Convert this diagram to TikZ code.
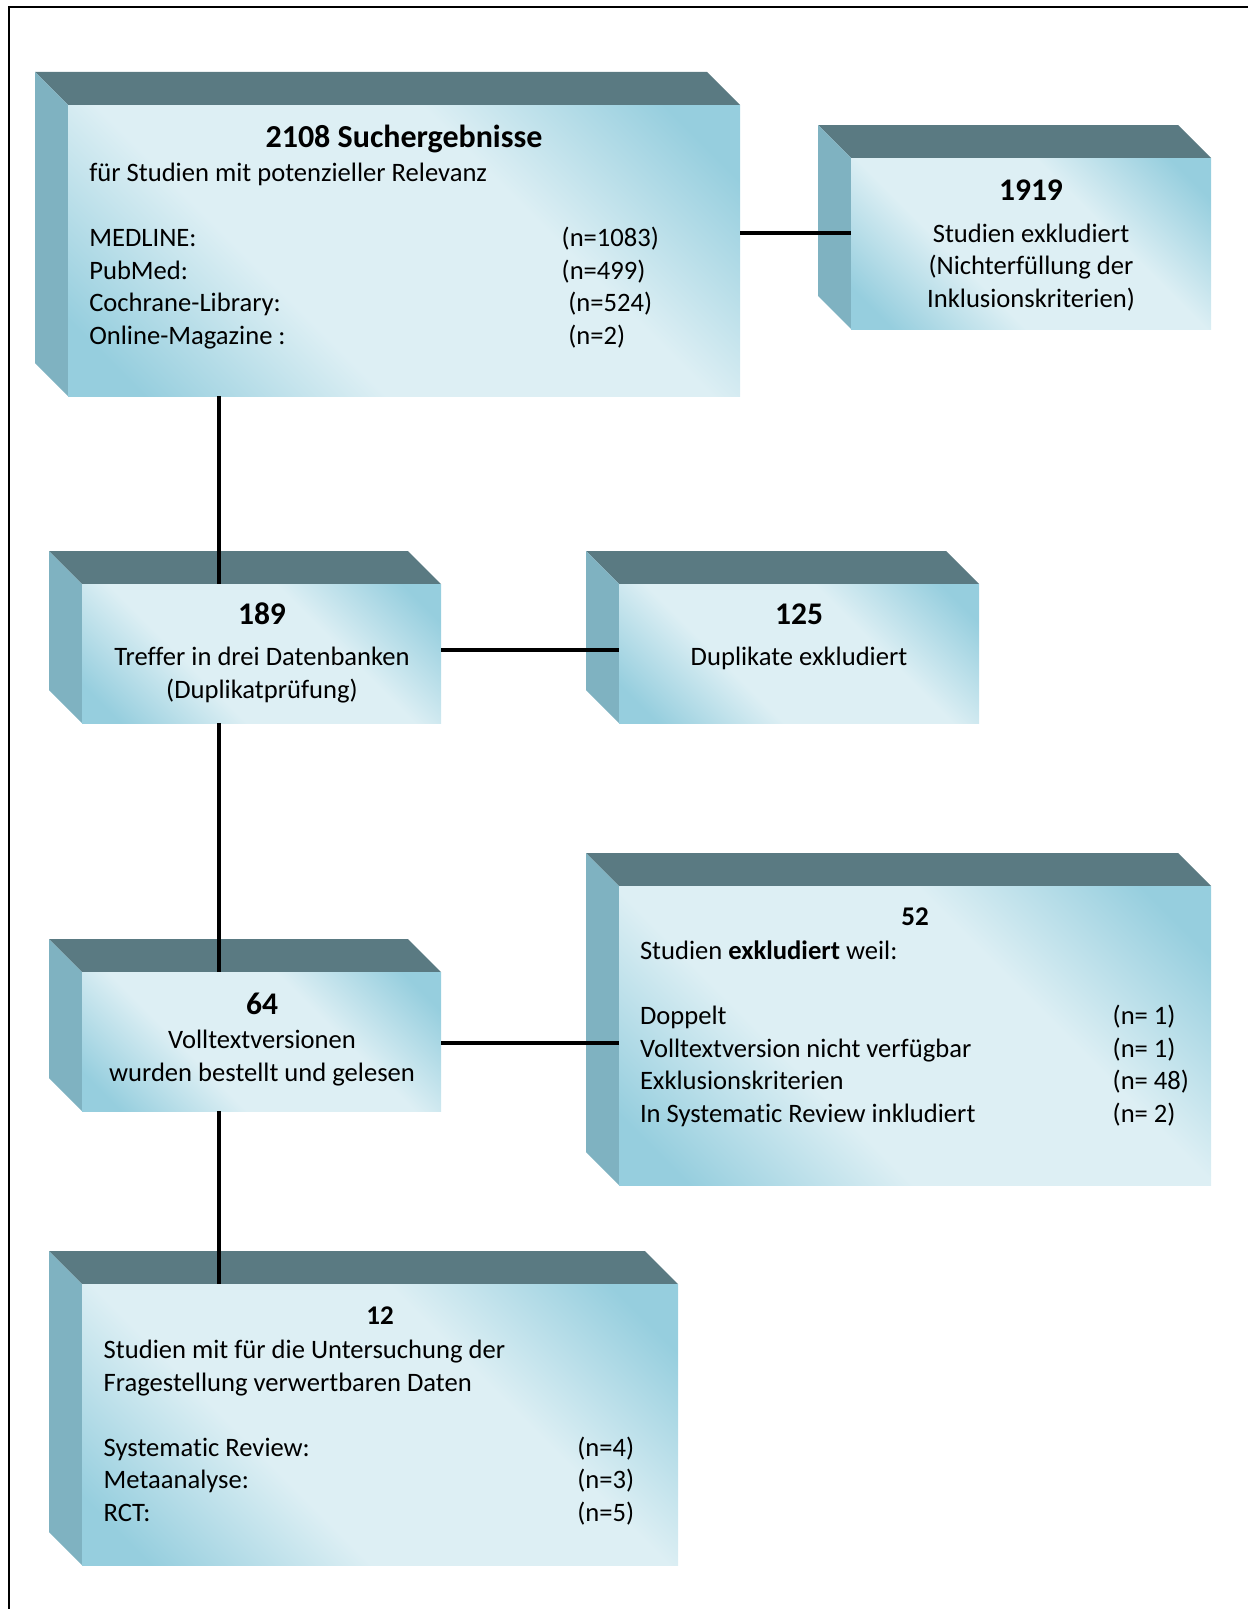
\documentclass[tikz,border=0pt]{standalone}
\usepackage{fontspec}
\setmainfont{Carlito}[Ligatures=NoCommon]
\definecolor{topc}{HTML}{5A7A82}
\definecolor{sidec}{HTML}{7FB2C1}
\definecolor{fdark}{HTML}{96CEDE}
\definecolor{flight}{HTML}{DDEFF4}
\pgfdeclarehorizontalshading{frontshade}{100bp}{color(0bp)=(fdark); color(20bp)=(fdark); color(38bp)=(flight); color(50bp)=(flight); color(62bp)=(flight); color(80bp)=(fdark); color(100bp)=(fdark)}
\tikzset{
  frontface/.style={shading=frontshade, shading angle=45, inner sep=0pt, outer sep=0pt, anchor=north west, draw=none},
  txt/.style={font=\fontsize{26.6bp}{32.6bp}\selectfont, inner sep=0pt, outer sep=0pt, yshift=-1.5bp},
  ttl/.style={font=\fontsize{31.5bp}{36bp}\selectfont\bfseries, inner sep=0pt, outer sep=0pt, anchor=base, yshift=-1.5bp},
  ttlsmall/.style={font=\fontsize{27bp}{32bp}\selectfont\bfseries, inner sep=0pt, outer sep=0pt, anchor=base, yshift=-1.5bp},
  ctr/.style={txt, anchor=base},
  lft/.style={txt, anchor=base west},
  conn/.style={line width=4bp, black},
  frameline/.style={line width=2.5bp, black},
}
\newcommand\cubebox[5]{%
  \fill[topc] (#2-33,#3-33) -- (#4-33,#3-33) -- (#4,#3) -- (#2,#3) -- cycle;
  \fill[sidec] (#2-33,#3-33) -- (#2,#3) -- (#2,#5) -- (#2-33,#5-33) -- cycle;
  \node[frontface, minimum width={(#4-#2)*1bp}, minimum height={(#5-#3)*1bp}] (#1) at (#2,#3) {};
}
\begin{document}
\begin{tikzpicture}[x=1bp,y=-1bp]
\useasboundingbox (0,0) rectangle (1248,1609);
% frame (cropped at right and bottom)
\coordinate (fa) at (9,1609);
\coordinate (fb) at (9,7);
\coordinate (fc) at (1248,7);
\draw[frameline] (fa) -- (fb) -- (fc);

% boxes
\cubebox{b1}{68}{105}{740}{396}
\cubebox{b2}{851}{158}{1211}{329}
\cubebox{b3}{82}{584}{441}{723}
\cubebox{b4}{619}{584}{979}{723}
\cubebox{b5}{82}{972}{441}{1111}
\cubebox{b6}{619}{886}{1211}{1185}
\cubebox{b7}{82}{1284}{678}{1565}

% connectors
\coordinate (v) at (219,0);
\coordinate (h1) at (0,233);
\coordinate (h2) at (0,650);
\coordinate (h3) at (0,1043);
\draw[conn] (b1.south -| v) -- (b3.north -| v);
\draw[conn] (b3.south -| v) -- (b5.north -| v);
\draw[conn] (b5.south -| v) -- (b7.north -| v);
\draw[conn] (b1.east |- h1) -- (b2.west |- h1);
\draw[conn] (b3.east |- h2) -- (b4.west |- h2);
\draw[conn] (b5.east |- h3) -- (b6.west |- h3);

% box 1 text
\node[ttl, font=\fontsize{32bp}{36bp}\selectfont\bfseries] (t1) at (404,145.7) {2108 Suchergebnisse};
\node[lft] (t1b) at (89.3,180) {für Studien mit potenzieller Relevanz};
\node[lft] (t1c) at (89.3,245) {MEDLINE:};
\node[lft] (t1d) at (89.3,277.6) {PubMed:};
\node[lft] (t1e) at (89.3,310.2) {Cochrane-Library:};
\node[lft] (t1f) at (89.3,342.8) {Online-Magazine :};
\node[lft] (n1c) at (561.7,245) {(n=1083)};
\node[lft] (n1d) at (561.7,277.6) {(n=499)};
\node[lft] (n1e) at (568.3,310.2) {(n=524)};
\node[lft] (n1f) at (568.3,342.8) {(n=2)};

% box 2 text
\node[ttl] (t2) at (1031,199) {1919};
\node[ctr] (t2b) at (1031,240.5) {Studien exkludiert};
\node[ctr] (t2c) at (1031,273.1) {(Nichterfüllung der};
\node[ctr] (t2d) at (1031,305.7) {Inklusionskriterien)};

% box 3 text
\node[ttl] (t3) at (262,623.3) {189};
\node[ctr] (t3b) at (262,664) {Treffer in drei Datenbanken};
\node[ctr] (t3c) at (262,696.6) {(Duplikatprüfung)};

% box 4 text
\node[ttl] (t4) at (799,623.3) {125};
\node[ctr] (t4b) at (799,664) {Duplikate exkludiert};

% box 5 text
\node[ttl] (t5) at (262,1013) {64};
\node[ctr] (t5b) at (262,1047) {Volltextversionen};
\node[ctr] (t5c) at (262,1079.6) {wurden bestellt und gelesen};

% box 6 text
\node[ttlsmall] (t6) at (915,924) {52};
\node[lft] (t6b) at (640,958) {Studien \textbf{exkludiert} weil:};
\node[lft] (t6c) at (640,1023) {Doppelt};
\node[lft] (t6d) at (640,1055.6) {Volltextversion nicht verfügbar};
\node[lft] (t6e) at (640,1088.2) {Exklusionskriterien};
\node[lft] (t6f) at (640,1120.8) {In Systematic Review inkludiert};
\node[lft] (n6c) at (1112.7,1023) {(n= 1)};
\node[lft] (n6d) at (1112.7,1055.6) {(n= 1)};
\node[lft] (n6e) at (1112.7,1088.2) {(n= 48)};
\node[lft] (n6f) at (1112.7,1120.8) {(n= 2)};

% box 7 text
\node[ttlsmall] (t7) at (380,1323) {12};
\node[lft] (t7b) at (103.7,1357) {Studien mit für die Untersuchung der};
\node[lft] (t7c) at (103.7,1389.6) {Fragestellung verwertbaren Daten};
\node[lft] (t7d) at (103.7,1454.8) {Systematic Review:};
\node[lft] (t7e) at (103.7,1487.4) {Metaanalyse:};
\node[lft] (t7f) at (103.7,1520) {RCT:};
\node[lft] (n7d) at (577.3,1454.8) {(n=4)};
\node[lft] (n7e) at (577.3,1487.4) {(n=3)};
\node[lft] (n7f) at (577.3,1520) {(n=5)};
\end{tikzpicture}
\end{document}
